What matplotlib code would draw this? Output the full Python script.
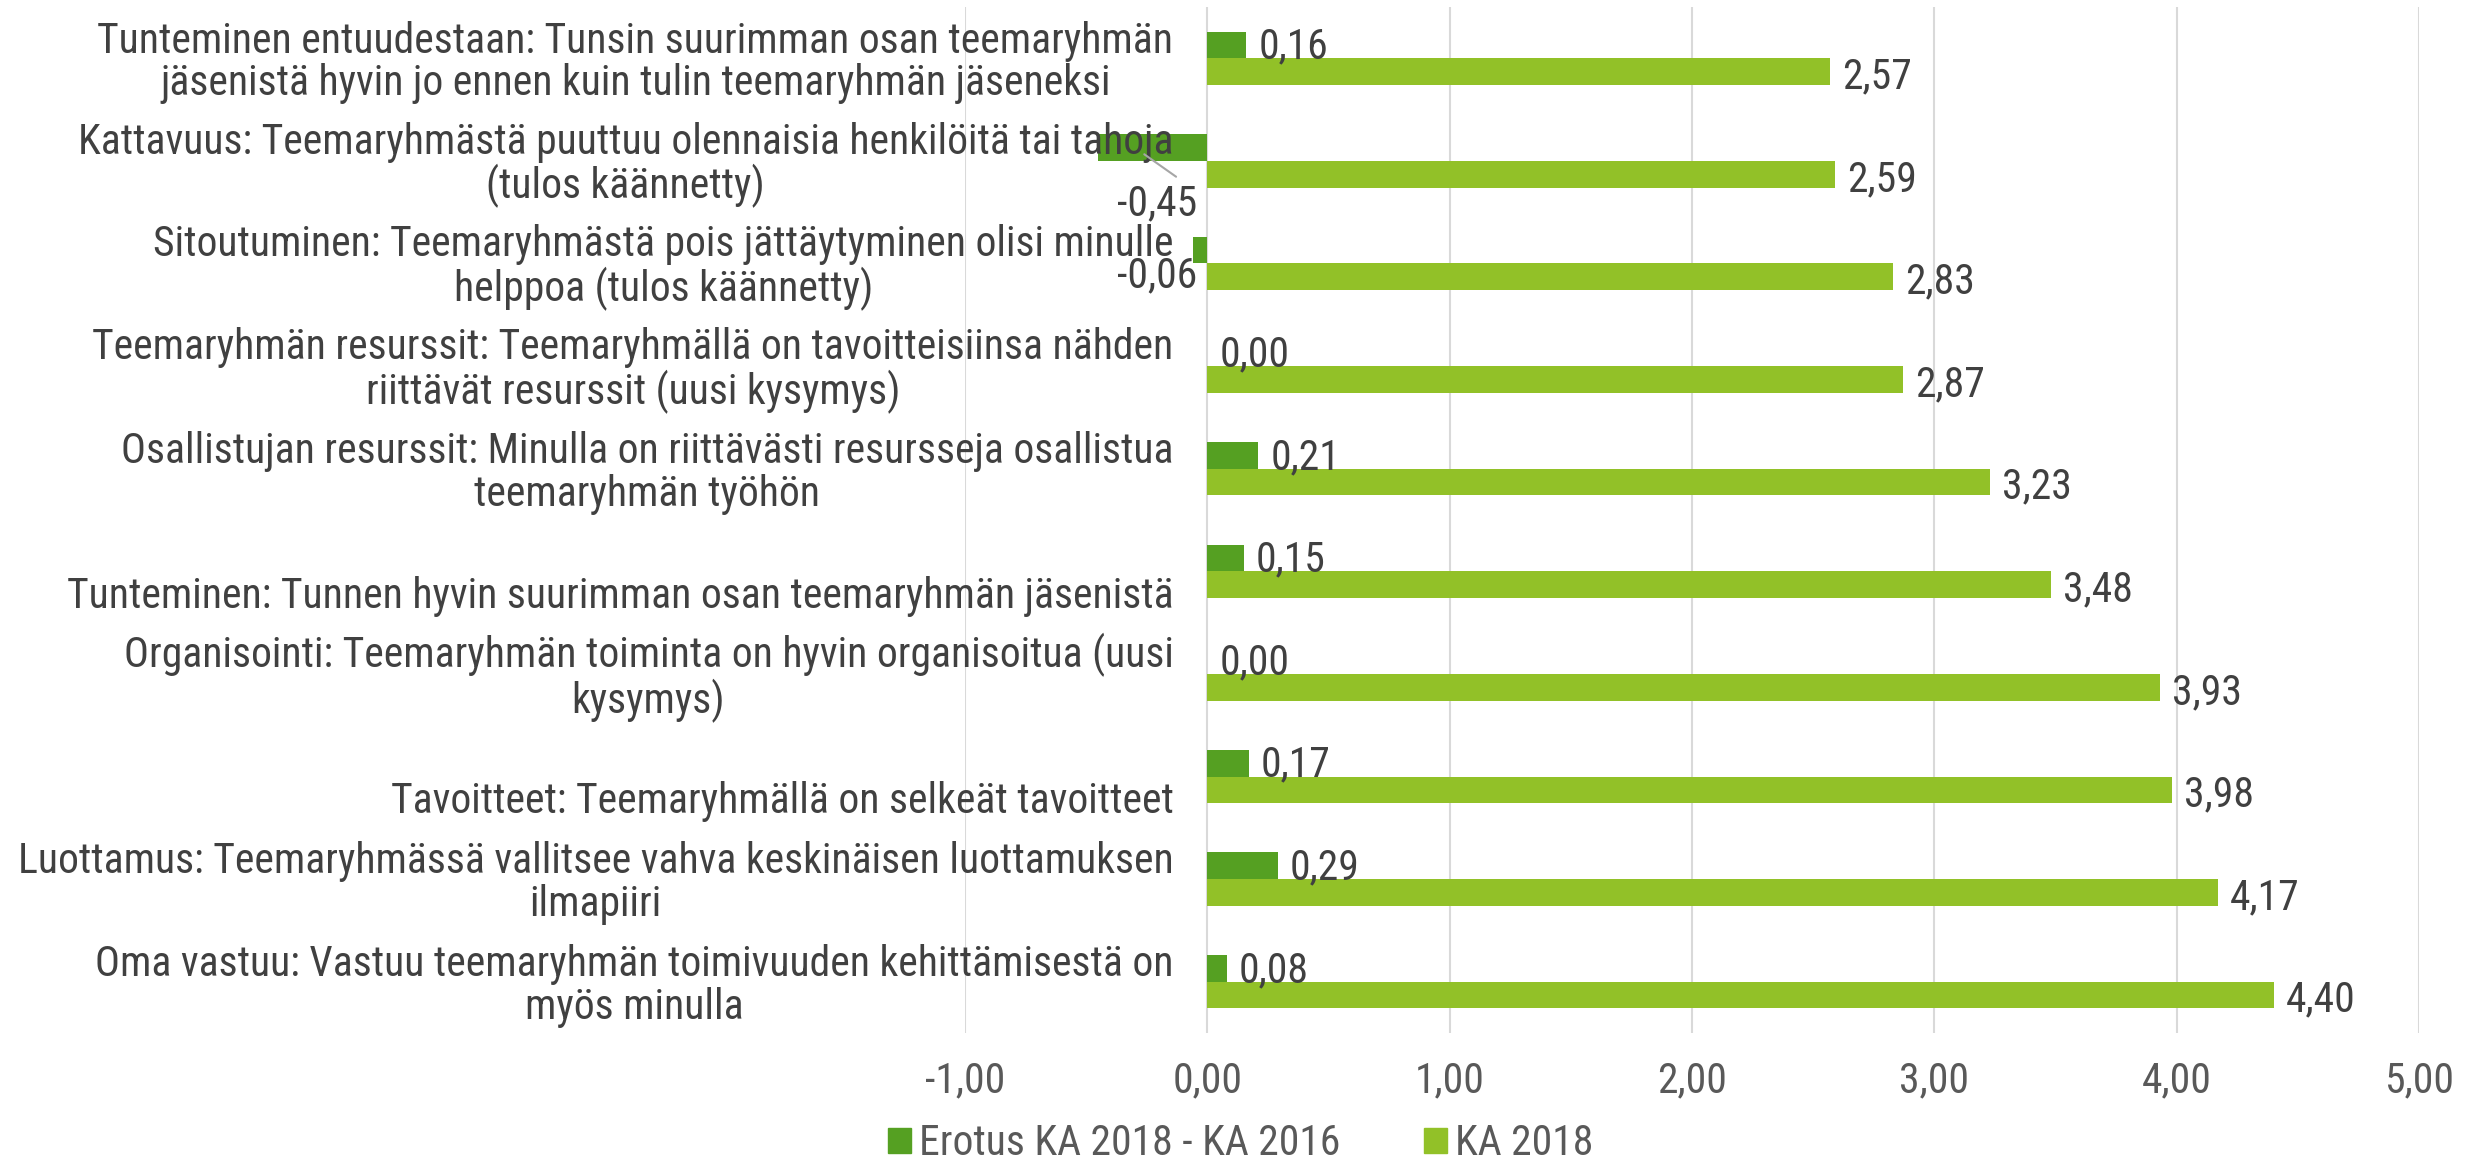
import numpy as np
import matplotlib
matplotlib.use("Agg")
import matplotlib.pyplot as plt
from matplotlib.patches import Patch

plt.rcParams['font.family'] = ['Roboto Condensed', 'DejaVu Sans']

categories = [
    "Tunteminen entuudestaan: Tunsin suurimman osan teemaryhmän\njäsenistä hyvin jo ennen kuin tulin teemaryhmän jäseneksi",
    "Kattavuus: Teemaryhmästä puuttuu olennaisia henkilöitä tai tahoja\n(tulos käännetty)",
    "Sitoutuminen: Teemaryhmästä pois jättäytyminen olisi minulle\nhelppoa (tulos käännetty)",
    "Teemaryhmän resurssit: Teemaryhmällä on tavoitteisiinsa nähden\nriittävät resurssit (uusi kysymys)",
    "Osallistujan resurssit: Minulla on riittävästi resursseja osallistua\nteemaryhmän työhön",
    "\nTunteminen: Tunnen hyvin suurimman osan teemaryhmän jäsenistä",
    "Organisointi: Teemaryhmän toiminta on hyvin organisoitua (uusi\nkysymys)",
    "\nTavoitteet: Teemaryhmällä on selkeät tavoitteet",
    "Luottamus: Teemaryhmässä vallitsee vahva keskinäisen luottamuksen\nilmapiiri",
    "Oma vastuu: Vastuu teemaryhmän toimivuuden kehittämisestä on\nmyös minulla",
]
erotus = [0.16, -0.45, -0.06, 0.00, 0.21, 0.15, 0.00, 0.17, 0.29, 0.08]
ka2018 = [2.57, 2.59, 2.83, 2.87, 3.23, 3.48, 3.93, 3.98, 4.17, 4.40]
series_names = ["Erotus KA 2018 - KA 2016", "KA 2018"]
xticks = [-1, 0, 1, 2, 3, 4, 5]

dark = "#55A022"
light = "#92C128"
txt = "#404040"
fs = 30

fig = plt.figure(figsize=(24.81, 11.62), dpi=100)
ax = fig.add_axes([0.389, 0.111, 0.586, 0.883])

y = np.arange(len(categories))
h = 0.26
ax.barh(y - h / 2, erotus, height=h, color=dark, zorder=2)
ax.barh(y + h / 2, ka2018, height=h, color=light, zorder=2)

fmt = lambda v: f"{v:.2f}".replace(".", ",")

for i, v in enumerate(erotus):
    if v < 0:
        # labels moved below the short negative bars
        dy = 0.55 if v < -0.2 else 0.25
        ax.text(-0.04, i - h / 2 + dy, fmt(v), ha="right", va="center",
                fontsize=fs, color=txt, zorder=4)
        if v < -0.2:
            ax.annotate("", xy=(v * 0.6, i - h / 2 + 0.05), xytext=(-0.12, i - h / 2 + 0.3),
                        arrowprops=dict(arrowstyle="-", color="#A6A6A6", lw=1.5), zorder=4)
    else:
        ax.text(v + 0.05, i - h / 2 + 0.02, fmt(v), ha="left", va="center",
                fontsize=fs, color=txt, zorder=4)
for i, v in enumerate(ka2018):
    ax.text(v + 0.05, i + h / 2 + 0.05, fmt(v), ha="left", va="center",
            fontsize=fs, color=txt, zorder=4)

for i, lab in enumerate(categories):
    ax.text(-0.14, i + 0.04, lab, ha="right", va="center", multialignment="center",
            fontsize=fs, color=txt, zorder=3, linespacing=1.05)

ax.set_xlim(-1, 5)
ax.set_ylim(len(categories) - 0.5, -0.5)
ax.set_xticks(xticks)
ax.set_xticklabels([fmt(v) for v in xticks], fontsize=fs, color="#595959")
ax.set_yticks([])
ax.tick_params(axis="x", length=0, pad=20)
ax.grid(axis="x", color="#D9D9D9", lw=1.5, zorder=0)
for s in ax.spines.values():
    s.set_visible(False)

handles = [Patch(color=dark), Patch(color=light)]
fig.legend(handles, series_names, loc="center", bbox_to_anchor=(0.5, 0.016), ncol=2,
           frameon=False, fontsize=fs, handlelength=0.55, handleheight=0.55,
           handletextpad=0.2, columnspacing=2.0, labelcolor="#595959",
           borderpad=0.0)

fig.savefig("out.png", dpi=100)
